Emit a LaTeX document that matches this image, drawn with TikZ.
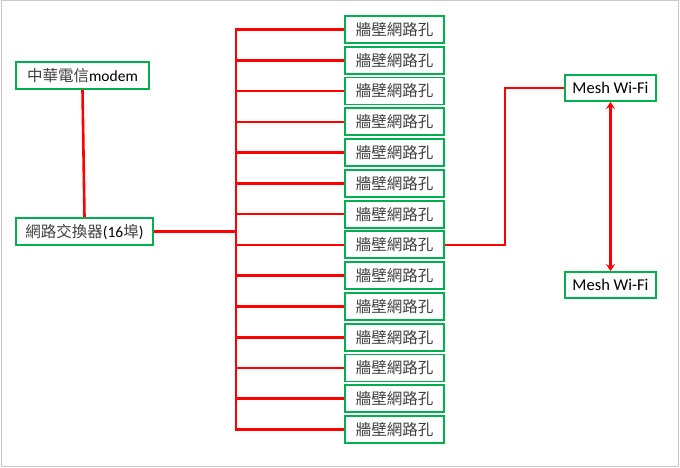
\documentclass[tikz,border=0pt]{standalone}
\usepackage{fontspec}
\setmainfont{Carlito}
\newfontfamily\cjk{Noto Sans CJK TC}
\usetikzlibrary{arrows.meta}
\definecolor{boxgreen}{HTML}{00B050}
\definecolor{linered}{HTML}{FF0000}
\definecolor{cjkgray}{HTML}{404040}
\definecolor{framegray}{HTML}{C8C8C8}
\newcommand{\zh}[1]{{\cjk\color{cjkgray}#1}}
\begin{document}
\begin{tikzpicture}[x=1pt,y=-1pt,
  box/.style={draw=boxgreen, line width=1.8pt, fill=white, inner sep=0pt,
    minimum height=27pt, font=\fontsize{15.5}{18}\selectfont, text=black},
  wallbox/.style={box, minimum width=99pt},
  meshbox/.style={box, minimum width=91pt, minimum height=26pt, font=\fontsize{16.5}{19}\selectfont},
  link/.style={draw=linered, line width=2.6pt},
  dbl/.style={link, {Stealth[length=7pt,width=9pt,inset=2.5pt]}-{Stealth[length=7pt,width=9pt,inset=2.5pt]}}]
\useasboundingbox (0,0) rectangle (680,468);
\draw[framegray, line width=1pt] (1,1) rectangle (678.5,466.5);

\node[box, minimum width=133pt] (modem) at (82.5,75.5) {\zh{中華電信}modem};
\node[box, minimum width=137pt] (switch) at (84.5,231.5) {\zh{網路交換器}(16\zh{埠})};

\foreach \i in {1,...,14}{
  \node[wallbox] (w\i) at (394.5,{29.5+(\i-1)*30.77}) {\zh{牆壁網路孔}\hspace{5pt}};
}
\node[meshbox] (mesh1) at (610.5,88) {Mesh Wi-Fi};
\node[meshbox] (mesh2) at (610.5,285) {Mesh Wi-Fi};

\coordinate (tk) at (236,0);
\coordinate (jog) at (505,0);

\draw[link] (modem.south) -- (switch.north);
\draw[link] (switch.east) -- (tk |- switch.east);
\draw[link, line cap=rect] (tk |- w1.west) -- (tk |- w14.west);
\foreach \i in {1,...,14}{
  \draw[link] (tk |- w\i.west) -- (w\i.west);
}
\draw[link] (w8.east) -- (jog |- w8.east) |- (mesh1.west);
\draw[dbl] (mesh1.south) -- (mesh2.north);
\end{tikzpicture}
\end{document}
